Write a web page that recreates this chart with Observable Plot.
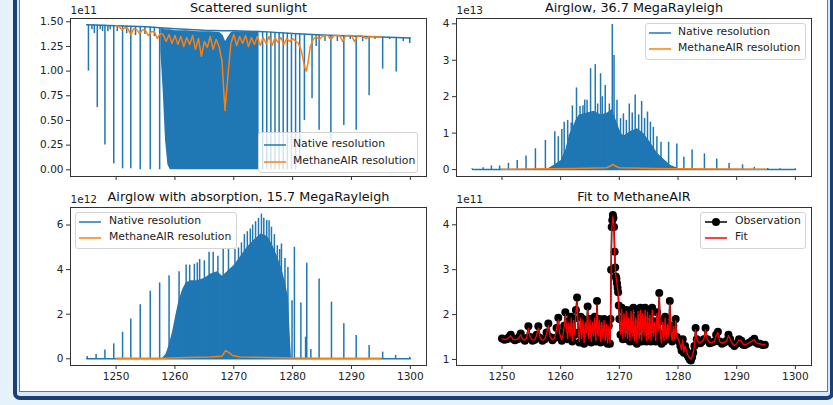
<!DOCTYPE html>
<html><head><meta charset="utf-8">
<script src="https://cdn.jsdelivr.net/npm/d3@7"></script>
<script src="https://cdn.jsdelivr.net/npm/@observablehq/plot@0.6"></script>
<style>
html,body{margin:0;padding:0;}
body{width:833px;height:405px;position:relative;overflow:hidden;background:#e6f2fb;font-family:"DejaVu Sans",sans-serif;}
.frame-outer{position:absolute;left:13px;top:-12px;width:821px;height:412px;box-sizing:border-box;border:4px solid #1c3f78;border-radius:7px;background:#d6e9f8;}
.frame-inner{position:absolute;left:19px;top:-12px;width:809px;height:404px;box-sizing:border-box;border:1.5px solid #4a7cc0;background:#fff;}
.panel{position:absolute;}
.legend{position:absolute;box-sizing:border-box;border:1px solid #d4d4d4;border-radius:3px;background:rgba(255,255,255,0.8);font-size:10.8px;color:#222;}
.legend .row{position:absolute;white-space:nowrap;line-height:12px;}
.legend svg{position:absolute;overflow:visible;}
</style></head>
<body>
<div class="frame-outer"></div>
<div class="frame-inner"></div>
<div id="p1" class="panel" style="left:0;top:0"></div>
<div id="p2" class="panel" style="left:420px;top:0"></div>
<div id="p3" class="panel" style="left:0;top:190px"></div>
<div id="p4" class="panel" style="left:420px;top:190px"></div>
<script>
const BLUE = "#1f77b4", ORANGE = "#ff7f0e", RED = "#ff0000";

// ---------- Panel 1: Scattered sunlight (units 1e11) ----------
const sunContX = [1245, 1247.5, 1250, 1255, 1260, 1265, 1268, 1270, 1275, 1280, 1285, 1290, 1295, 1300];
const sunContY = [1.47, 1.465, 1.46, 1.45, 1.43, 1.415, 1.41, 1.41, 1.40, 1.38, 1.365, 1.355, 1.345, 1.335];
const sunLineX  = [1245.3, 1245.9, 1246.3, 1246.8, 1247.3, 1247.7, 1248.1, 1248.6, 1249.0, 1249.6, 1250.2, 1251.1, 1251.8, 1252.5, 1253.3, 1254.1, 1254.9, 1255.8, 1256.5, 1257.4,
                   1274.9, 1275.6, 1276.3, 1277.0, 1277.7, 1278.4, 1279.1, 1279.8, 1280.5, 1281.2, 1282.0, 1283.3, 1284.0, 1284.5, 1285.5, 1286.5, 1287.6, 1288.7, 1289.8, 1290.8, 1291.9, 1293.0, 1294.0, 1295.3, 1296.5, 1297.6, 1298.8, 1299.9];
const sunLineLo = [1.00, 1.42, 1.38, 0.63, 1.42, 1.40, 0.25, 1.40, 1.42, 0.06, 1.40, 0.01, 1.38, 0.01, 1.36, 0.00, 1.37, 0.00, 1.35, 0.00,
                   0.00, 0.00, 0.00, 0.00, 0.00, 0.00, 0.00, 0.00, 0.00, 0.05, 0.50, 0.72, 1.25, 0.40, 1.30, 0.30, 1.30, 0.45, 1.32, 0.40, 1.30, 0.75, 1.32, 1.02, 1.32, 0.99, 1.30, 1.28];
const sunBandX   = [1257.6, 1258.0, 1258.4, 1258.8, 1259.2, 1260.0, 1262.0, 1264.0, 1266.0, 1267.6, 1268.2, 1268.6, 1269.0, 1269.6, 1270.0, 1272.0, 1274.0, 1274.3];
const sunBandTop = [1.43, 1.43, 1.42, 1.42, 1.42, 1.41, 1.41, 1.40, 1.40, 1.39, 1.36, 1.30, 1.34, 1.39, 1.40, 1.40, 1.39, 1.39];
const sunBandLow = [1.20, 0.80, 0.30, 0.05, 0.00, 0.00, 0.00, 0.00, 0.00, 0.00, 0.00, 0.00, 0.00, 0.00, 0.00, 0.00, 0.00, 0.00];
const sunMairX = [1250, 1250.5, 1251, 1251.5, 1252, 1252.5, 1253, 1253.5, 1254, 1254.5, 1255, 1255.5, 1256, 1256.5, 1257, 1257.5, 1258, 1258.5, 1259, 1259.5,
                  1260, 1260.5, 1261, 1261.5, 1262, 1262.5, 1263, 1263.5, 1264, 1264.5, 1265, 1265.5, 1266, 1266.5, 1267, 1267.5, 1268, 1268.5, 1269, 1269.5,
                  1270, 1270.5, 1271, 1271.5, 1272, 1272.5, 1273, 1273.5, 1274, 1274.5, 1275, 1275.5, 1276, 1276.5, 1277, 1277.5, 1278, 1278.5, 1279, 1279.5,
                  1280, 1280.5, 1281, 1281.5, 1282, 1282.3, 1282.6, 1283, 1283.5, 1284, 1284.5, 1285, 1285.5, 1286, 1286.5, 1287, 1287.5, 1288, 1288.5, 1289,
                  1289.5, 1290, 1290.5, 1291, 1291.5, 1292, 1292.5, 1293, 1293.5, 1294, 1294.5, 1295];
const sunMairY = [1.46, 1.45, 1.42, 1.44, 1.43, 1.37, 1.43, 1.42, 1.38, 1.42, 1.41, 1.36, 1.40, 1.40, 1.33, 1.38, 1.37, 1.30, 1.37, 1.28,
                  1.36, 1.27, 1.35, 1.25, 1.34, 1.27, 1.36, 1.22, 1.33, 1.15, 1.30, 1.24, 1.35, 1.22, 1.32, 1.25, 1.10, 0.60, 0.95, 1.28,
                  1.37, 1.26, 1.35, 1.28, 1.36, 1.25, 1.34, 1.27, 1.35, 1.26, 1.34, 1.28, 1.35, 1.26, 1.34, 1.29, 1.34, 1.27, 1.33, 1.30,
                  1.33, 1.30, 1.28, 1.20, 1.05, 1.00, 1.08, 1.25, 1.32, 1.35, 1.32, 1.35, 1.36, 1.36, 1.32, 1.36, 1.36, 1.36, 1.30, 1.36,
                  1.36, 1.36, 1.30, 1.35, 1.36, 1.35, 1.33, 1.35, 1.35, 1.35, 1.34, 1.35];

// ---------- Panel 2: Airglow (units 1e13) ----------
const agLineX = [1244.9, 1246.8, 1248.2, 1249.6, 1251.1, 1252.6, 1254.1, 1255.7, 1257.4, 1259.0, 1259.6, 1260.2, 1260.6, 1261.2, 1261.8, 1262.0, 1262.7, 1263.3, 1263.8, 1264.1, 1264.5,
                 1265.1, 1265.9, 1266.3, 1266.8, 1267.1, 1267.6, 1268.3, 1268.8, 1269.1, 1269.6, 1270.2, 1270.7, 1271.2, 1271.7, 1272.2, 1272.7, 1273.3, 1273.8, 1274.3,
                 1274.8, 1275.3, 1275.8, 1276.4, 1277.1, 1278.4, 1279.8, 1281.0, 1282.4, 1284.5, 1286.6, 1288.7, 1291.0, 1293.0, 1295.3, 1297.4, 1300.0];
const agLineY = [0.02, 0.05, 0.10, 0.10, 0.17, 0.25, 0.37, 0.57, 0.80, 1.04, 0.90, 1.10, 1.30, 1.35, 1.28, 1.75, 2.24, 1.73, 1.75, 1.91, 1.90,
                 2.77, 2.88, 1.80, 2.63, 2.00, 2.31, 1.80, 3.98, 3.13, 1.90, 1.40, 1.53, 1.35, 1.80, 1.55, 2.05, 1.50, 1.87, 1.40,
                 1.58, 1.30, 1.16, 0.90, 0.75, 0.75, 0.70, 0.34, 0.54, 0.43, 0.29, 0.17, 0.13, 0.06, 0.03, 0.02, 0.02];
const agEnvX = [1258.1, 1258.9, 1260.1, 1260.9, 1261.5, 1262.1, 1262.6, 1263.2, 1264.6, 1265.7, 1266.9, 1268.0, 1268.8, 1269.7, 1270.3, 1270.8, 1272.0, 1273.1, 1274.2, 1275.4, 1276.5, 1277.6, 1278.7, 1279.9];
const agEnvY = [0.04, 0.12, 0.25, 0.55, 0.95, 1.15, 1.35, 1.50, 1.55, 1.60, 1.50, 1.55, 1.65, 1.25, 1.00, 0.92, 1.05, 1.12, 0.98, 0.72, 0.45, 0.28, 0.12, 0.04];
const agMairX = [1250, 1258, 1262, 1266, 1267.8, 1268.4, 1268.9, 1269.4, 1270.0, 1272, 1276, 1280, 1295];
const agMairY = [0.01, 0.02, 0.03, 0.04, 0.05, 0.09, 0.14, 0.09, 0.05, 0.04, 0.03, 0.02, 0.01];

// ---------- Panel 3: Airglow with absorption (units 1e12) ----------
const abLineX = [1245.1, 1246.6, 1248.1, 1249.6, 1251.1, 1252.5, 1254.1, 1255.8, 1257.4, 1259.0, 1260.7, 1261.9, 1262.5, 1263.3, 1263.8, 1264.2, 1265.0, 1265.8, 1266.5, 1267.3,
                 1268.2, 1269.1, 1270.2, 1270.8, 1271.3, 1271.8, 1272.3, 1272.8, 1273.2, 1273.7, 1274.2, 1274.7, 1275.1, 1275.6, 1276.0, 1276.4, 1276.9, 1277.4, 1277.8,
                 1278.1, 1278.7, 1279.2, 1279.9, 1280.3, 1281.4, 1282.2, 1282.4, 1283.1, 1284.5, 1286.6, 1288.7, 1290.8, 1293.0, 1295.3, 1297.5, 1299.9];
const abLineY = [0.10, 0.19, 0.40, 0.67, 1.19, 1.78, 2.42, 3.03, 3.40, 3.73, 3.90, 4.21, 4.20, 4.24, 4.30, 4.45, 4.40, 4.78, 4.78, 4.60,
                 4.93, 4.93, 4.90, 4.97, 5.20, 5.57, 5.70, 5.82, 6.00, 6.15, 6.30, 6.49, 6.30, 6.20, 6.19, 5.90, 5.57, 5.07, 4.90,
                 5.15, 4.50, 4.10, 2.60, 5.00, 2.50, 0.97, 4.28, 0.42, 3.58, 2.54, 1.57, 1.04, 0.60, 0.30, 0.15, 0.07];
const abEnvX = [1257.9, 1258.5, 1259.0, 1259.6, 1260.2, 1260.7, 1261.3, 1261.9, 1262.7, 1263.8, 1265.0, 1266.1, 1267.2, 1268.1, 1268.9, 1270.1, 1271.2, 1272.3, 1273.4, 1274.6,
                1275.7, 1276.6, 1277.4, 1278.2, 1278.8, 1279.3, 1279.6, 1279.8];
const abEnvY = [0.03, 0.20, 0.60, 1.20, 2.00, 2.60, 3.10, 3.40, 3.50, 3.50, 3.60, 3.80, 3.90, 3.70, 3.90, 4.20, 4.60, 5.00, 5.30, 5.60,
                5.50, 5.10, 4.60, 4.00, 3.40, 2.70, 1.00, 0.05];
const abMairX = [1250, 1258, 1262, 1266, 1268.0, 1268.6, 1269.2, 1269.8, 1271, 1276, 1280, 1285, 1295];
const abMairY = [0.02, 0.03, 0.06, 0.08, 0.12, 0.37, 0.28, 0.15, 0.08, 0.06, 0.04, 0.02, 0.02];
const baseX = [1245, 1300], baseY = [0, 0];

// ---------- Panel 4: Fit to MethaneAIR (units 1e11) ----------
const obsX = [1250.0, 1250.4, 1250.8, 1251.2, 1251.5, 1251.8, 1252.2, 1252.6, 1252.9, 1253.2, 1253.5, 1253.9, 1254.2, 1254.5, 1254.8, 1255.2, 1255.6, 1255.9, 1256.2, 1256.5,
              1256.9, 1257.3, 1257.6, 1257.9, 1258.2, 1258.6, 1259.0, 1259.3, 1259.6, 1259.8,
              1260.0, 1260.2, 1260.4, 1260.6, 1260.8, 1261.0, 1261.2, 1261.4, 1261.6, 1261.8, 1262.0, 1262.2, 1262.4, 1262.6, 1262.8, 1263.0, 1263.2, 1263.4, 1263.6, 1263.8,
              1264.0, 1264.2, 1264.4, 1264.6, 1264.8, 1265.0, 1265.2, 1265.4, 1265.6, 1265.8, 1266.0, 1266.2, 1266.4, 1266.6, 1266.8, 1267.0, 1267.2, 1267.4, 1267.6, 1267.8,
              1268.0, 1268.2, 1268.4, 1268.5, 1268.6, 1268.7, 1268.8, 1268.9, 1269.0, 1269.1, 1269.2, 1269.3, 1269.4, 1269.5, 1269.6, 1269.7, 1269.8, 1269.9, 1270.0, 1270.2,
              1270.4, 1270.6, 1270.8, 1271.0, 1271.2, 1271.4, 1271.6, 1271.8, 1272.0, 1272.2, 1272.4, 1272.6, 1272.8, 1273.0, 1273.2, 1273.4, 1273.6, 1273.8, 1274.0, 1274.2,
              1274.4, 1274.6, 1274.8, 1275.0, 1275.2, 1275.4, 1275.6, 1275.8, 1276.0, 1276.2, 1276.4, 1276.6, 1276.8, 1277.0, 1277.2, 1277.4, 1277.6, 1277.8, 1278.0, 1278.2,
              1278.4, 1278.6, 1278.8, 1279.0, 1279.2, 1279.4, 1279.6, 1279.8, 1280.0, 1280.2, 1280.4, 1280.6, 1280.8, 1281.0, 1281.2, 1281.4, 1281.6, 1281.8, 1282.0, 1282.2,
              1282.4, 1282.6, 1282.8, 1283.0, 1283.2, 1283.5, 1283.8, 1284.1, 1284.4, 1284.7, 1285.0, 1285.4, 1285.8, 1286.2, 1286.5, 1286.8, 1287.1, 1287.5, 1287.9, 1288.3,
              1288.6, 1288.9, 1289.2, 1289.6, 1290.0, 1290.4, 1290.8, 1291.1, 1291.4, 1291.8, 1292.2, 1292.6, 1293.0, 1293.3, 1293.6, 1294.0, 1294.4, 1294.8, 1295.0];
const obsY = [1.47, 1.44, 1.45, 1.50, 1.55, 1.46, 1.43, 1.45, 1.50, 1.58, 1.46, 1.42, 1.48, 1.74, 1.50, 1.42, 1.44, 1.55, 1.74, 1.48,
              1.42, 1.45, 1.60, 1.80, 1.50, 1.43, 1.48, 1.70, 1.93, 1.60,
              1.50, 1.42, 1.55, 1.75, 2.05, 1.70, 1.45, 1.85, 1.50, 1.95, 1.40, 1.90, 1.55, 2.10, 2.38, 1.60, 1.38, 1.95, 1.45, 1.90,
              1.35, 1.85, 1.60, 2.18, 1.45, 1.90, 1.38, 1.85, 1.50, 1.95, 1.40, 2.30, 1.50, 1.90, 1.38, 1.85, 1.45, 1.90, 1.40, 1.80,
              1.35, 1.75, 1.35, 1.90, 3.00, 3.95, 4.10, 4.22, 4.15, 3.95, 3.40, 3.05, 2.85, 2.80, 2.70, 2.60, 2.50, 2.20, 1.90, 1.55,
              2.15, 1.45, 2.05, 1.50, 2.10, 1.45, 1.95, 1.40, 2.10, 1.50, 2.15, 1.40, 1.95, 1.35, 2.10, 1.45, 2.15, 1.40, 2.05, 1.50,
              2.15, 1.40, 2.10, 1.45, 2.00, 1.40, 2.15, 1.50, 1.85, 1.40, 2.05, 1.60, 2.48, 1.50, 1.35, 1.85, 1.40, 1.95, 1.45, 1.80,
              1.50, 2.30, 1.65, 1.40, 1.75, 1.45, 1.90, 1.50, 1.45, 1.40, 1.30, 1.20, 1.45, 1.15, 1.30, 1.20, 1.10, 1.05, 1.00, 0.98,
              1.05, 1.15, 1.30, 1.70, 1.45, 1.38, 1.36, 1.40, 1.45, 1.70, 1.45, 1.36, 1.38, 1.40, 1.55, 1.62, 1.40, 1.35, 1.38, 1.42,
              1.55, 1.45, 1.35, 1.30, 1.35, 1.45, 1.42, 1.33, 1.32, 1.35, 1.38, 1.42, 1.46, 1.38, 1.35, 1.35, 1.32, 1.33];
const fitY = [1.46, 1.45, 1.45, 1.49, 1.53, 1.46, 1.44, 1.45, 1.49, 1.55, 1.46, 1.43, 1.48, 1.70, 1.50, 1.43, 1.44, 1.54, 1.70, 1.48,
              1.43, 1.45, 1.58, 1.76, 1.50, 1.44, 1.48, 1.68, 1.88, 1.60,
              1.50, 1.44, 1.55, 1.72, 2.00, 1.70, 1.47, 1.82, 1.52, 1.92, 1.42, 1.87, 1.56, 2.05, 2.30, 1.62, 1.40, 1.92, 1.47, 1.88,
              1.38, 1.83, 1.60, 2.12, 1.47, 1.88, 1.40, 1.83, 1.52, 1.92, 1.42, 2.22, 1.52, 1.87, 1.40, 1.83, 1.47, 1.87, 1.42, 1.78,
              1.37, 1.73, 1.37, 1.88, 2.95, 3.90, 4.05, 4.18, 4.10, 3.92, 3.38, 3.05, 2.85, 2.78, 2.68, 2.58, 2.48, 2.20, 1.92, 1.57,
              2.12, 1.47, 2.02, 1.52, 2.07, 1.47, 1.93, 1.42, 2.07, 1.52, 2.10, 1.42, 1.93, 1.37, 2.07, 1.47, 2.10, 1.42, 2.02, 1.52,
              2.10, 1.42, 2.06, 1.47, 1.98, 1.42, 2.10, 1.52, 1.83, 1.42, 2.02, 1.62, 2.40, 1.52, 1.37, 1.83, 1.42, 1.92, 1.47, 1.78,
              1.52, 2.24, 1.65, 1.42, 1.74, 1.46, 1.86, 1.50, 1.46, 1.41, 1.31, 1.22, 1.44, 1.17, 1.30, 1.22, 1.12, 1.07, 1.03, 1.01,
              1.07, 1.16, 1.30, 1.66, 1.45, 1.38, 1.37, 1.40, 1.45, 1.66, 1.45, 1.37, 1.38, 1.40, 1.53, 1.60, 1.40, 1.36, 1.38, 1.42,
              1.53, 1.45, 1.36, 1.31, 1.35, 1.44, 1.41, 1.34, 1.33, 1.35, 1.38, 1.41, 1.44, 1.38, 1.35, 1.35, 1.33, 1.33];

// ---------- shared axis ticks ----------
const xTicks = [1250, 1260, 1270, 1280, 1290, 1300];
const sunTicks = [0, 0.25, 0.5, 0.75, 1.0, 1.25, 1.5];
const agTicks = [0, 1, 2, 3, 4];
const abTicks = [0, 2, 4, 6];
const fitTicks = [1, 2, 3, 4];

const zip = (xs, ys, k = "y") => xs.map((x, i) => ({x, [k]: ys[i]}));
const XDOM = [1242.25, 1302.75];
const style = {fontFamily: "DejaVu Sans", fontSize: "10.5px", color: "#222", background: "transparent", overflow: "visible"};

function axes(yTicks, yFmt, showX) {
  return [
    Plot.frame({stroke: "#333", strokeWidth: 1}),
    Plot.axisX({ticks: xTicks, tickSize: 4, tickPadding: 3, label: null, stroke: "#333",
                tickFormat: showX ? (d => String(d)) : (() => "")}),
    Plot.axisY({ticks: yTicks, tickSize: 4, tickPadding: 3, label: null, stroke: "#333", tickFormat: yFmt})
  ];
}
function titles(title, offset) {
  return [
    Plot.text([title], {text: d => d, frameAnchor: "top", lineAnchor: "middle", dy: -11, fontSize: 12.8, fill: "#111"}),
    Plot.text([offset], {text: d => d, frameAnchor: "top-left", lineAnchor: "middle", dy: -7.5, textAnchor: "start", fontSize: 10.5, fill: "#222"})
  ];
}

// Panel 1
const contScale = d3.scaleLinear(sunContX, sunContY);
const sunLines = sunLineX.map((x, i) => ({x, lo: sunLineLo[i], hi: contScale(x)}));
const sunBand = sunBandX.map((x, i) => ({x, lo: sunBandLow[i], hi: sunBandTop[i]}));
document.getElementById("p1").append(Plot.plot({
  width: 440, height: 190, marginLeft: 70, marginRight: 14, marginTop: 18, marginBottom: 14,
  x: {domain: XDOM, label: null}, y: {domain: [-0.068, 1.533], label: null}, style,
  marks: [
    Plot.areaY(sunBand, {x: "x", y1: "lo", y2: "hi", fill: BLUE}),
    Plot.ruleX(sunLines, {x: "x", y1: "lo", y2: "hi", stroke: BLUE, strokeWidth: 1.5}),
    Plot.line(zip(sunContX, sunContY), {x: "x", y: "y", stroke: BLUE, strokeWidth: 1.5}),
    Plot.line(zip(sunMairX, sunMairY), {x: "x", y: "y", stroke: ORANGE, strokeWidth: 1.5}),
    ...axes(sunTicks, d3.format(".2f"), false),
    ...titles("Scattered sunlight", "1e11")
  ]
}));

// Panel 2
document.getElementById("p2").append(Plot.plot({
  width: 413, height: 190, marginLeft: 36, marginRight: 22, marginTop: 18, marginBottom: 14,
  x: {domain: XDOM, label: null}, y: {domain: [-0.19, 4.146], label: null}, style,
  marks: [
    Plot.line(zip(baseX, baseY), {x: "x", y: "y", stroke: BLUE, strokeWidth: 1.5}),
    Plot.areaY(zip(agEnvX, agEnvY), {x: "x", y: "y", fill: BLUE}),
    Plot.ruleX(zip(agLineX, agLineY), {x: "x", y1: 0, y2: "y", stroke: BLUE, strokeWidth: 1.5}),
    Plot.line(zip(agMairX, agMairY), {x: "x", y: "y", stroke: ORANGE, strokeWidth: 1.5}),
    ...axes(agTicks, d3.format("d"), false),
    ...titles("Airglow, 36.7 MegaRayleigh", "1e13")
  ]
}));

// Panel 3
document.getElementById("p3").append(Plot.plot({
  width: 440, height: 215, marginLeft: 70, marginRight: 14, marginTop: 17, marginBottom: 40,
  x: {domain: XDOM, label: null}, y: {domain: [-0.30, 6.785], label: null}, style,
  marks: [
    Plot.line(zip(baseX, baseY), {x: "x", y: "y", stroke: BLUE, strokeWidth: 1.5}),
    Plot.areaY(zip(abEnvX, abEnvY), {x: "x", y: "y", fill: BLUE}),
    Plot.ruleX(zip(abLineX, abLineY), {x: "x", y1: 0, y2: "y", stroke: BLUE, strokeWidth: 1.5}),
    Plot.line(zip(abMairX, abMairY), {x: "x", y: "y", stroke: ORANGE, strokeWidth: 1.5}),
    ...axes(abTicks, d3.format("d"), true),
    ...titles("Airglow with absorption, 15.7 MegaRayleigh", "1e12")
  ]
}));

// Panel 4
document.getElementById("p4").append(Plot.plot({
  width: 413, height: 215, marginLeft: 36, marginRight: 22, marginTop: 17, marginBottom: 40,
  x: {domain: XDOM, label: null}, y: {domain: [0.866, 4.385], label: null}, style,
  marks: [
    Plot.line(zip(obsX, obsY), {x: "x", y: "y", stroke: "#000", strokeWidth: 1.5}),
    Plot.dot(zip(obsX, obsY), {x: "x", y: "y", r: 4, fill: "#000", stroke: null}),
    Plot.line(zip(obsX, fitY), {x: "x", y: "y", stroke: RED, strokeWidth: 1.3}),
    ...axes(fitTicks, d3.format("d"), true),
    ...titles("Fit to MethaneAIR", "1e11")
  ]
}));

// ---------- legends ----------
function legend(left, top, w, h, entries) {
  const div = document.createElement("div");
  div.className = "legend";
  Object.assign(div.style, {left: left + "px", top: top + "px", width: w + "px", height: h + "px"});
  entries.forEach((e) => {
    const y = e.y - top;
    const svg = d3.create("svg").attr("width", 24).attr("height", 8)
      .style("left", (e.sx - left) + "px").style("top", (y - 4) + "px");
    svg.append("line").attr("x1", 0).attr("x2", 22).attr("y1", 4).attr("y2", 4)
      .attr("stroke", e.color).attr("stroke-width", 1.5);
    if (e.marker) svg.append("circle").attr("cx", 11).attr("cy", 4).attr("r", 4).attr("fill", e.color);
    div.append(svg.node());
    const t = document.createElement("div");
    t.className = "row";
    t.textContent = e.label;
    Object.assign(t.style, {left: (e.tx - left) + "px", top: (y - 7) + "px"});
    div.append(t);
  });
  document.body.append(div);
}
legend(258, 132, 160, 41, [
  {label: "Native resolution", color: BLUE, sx: 263, tx: 292, y: 144},
  {label: "MethaneAIR resolution", color: ORANGE, sx: 263, tx: 292, y: 160.5}
]);
legend(645, 23, 161, 37, [
  {label: "Native resolution", color: BLUE, sx: 648, tx: 677, y: 31.7},
  {label: "MethaneAIR resolution", color: ORANGE, sx: 648, tx: 677, y: 47.7}
]);
legend(75, 212, 162, 37, [
  {label: "Native resolution", color: BLUE, sx: 78, tx: 108, y: 220.7},
  {label: "MethaneAIR resolution", color: ORANGE, sx: 78, tx: 108, y: 236.7}
]);
legend(700, 212, 106, 37, [
  {label: "Observation", color: "#000", sx: 704, tx: 734, y: 220.7, marker: true},
  {label: "Fit", color: RED, sx: 704, tx: 734, y: 236.7}
]);
</script>
</body></html>
